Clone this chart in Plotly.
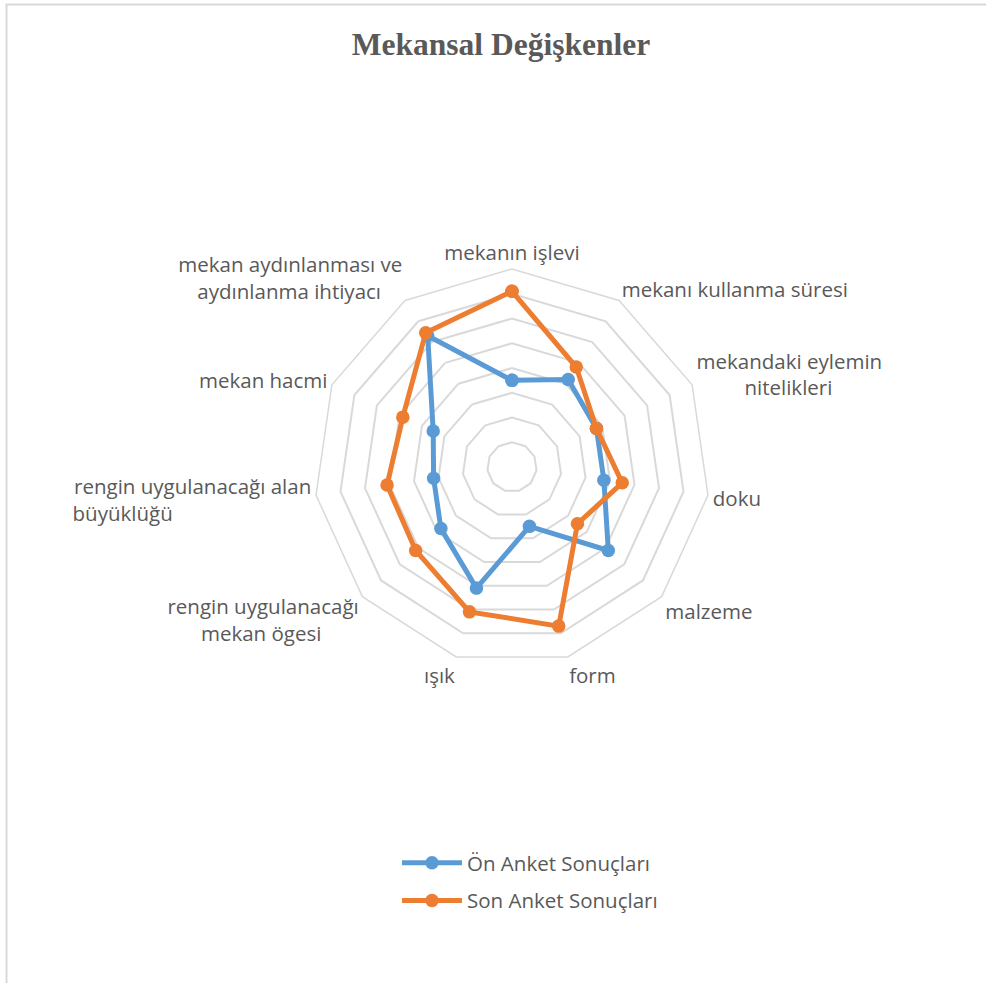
import plotly.graph_objects as go

# kategoriler (saat yönünde, tepeden başlayarak)
categories = [
    "mekanın işlevi",
    "mekanı kullanma süresi",
    "mekandaki eylemin nitelikleri",
    "doku",
    "malzeme",
    "form",
    "ışık",
    "rengin uygulanacağı mekan ögesi",
    "rengin uygulanacağı alan büyüklüğü",
    "mekan hacmi",
    "mekan aydınlanması ve aydınlanma ihtiyacı",
]

# eksen etiketleri (satır kırılımları Excel'deki gibi)
nb = "\u00a0"
tick_labels = [
    "mekanın işlevi",
    "mekanı kullanma süresi",
    "mekandaki eylemin<br>" + nb * 9 + "nitelikleri",
    "doku",
    "malzeme",
    "form",
    "ışık",
    "rengin uygulanacağı<br>mekan ögesi" + nb * 7,
    "rengin uygulanacağı alan<br>büyüklüğü" + nb * 26,
    "mekan hacmi",
    "mekan aydınlanması ve<br>aydınlanma ihtiyacı" + nb * 4,
]

on_anket = [3.5, 4.2, 3.75, 3.75, 5.15, 2.5, 5.1, 3.8, 3.2, 3.5, 6.3]
son_anket = [7.1, 4.8, 3.75, 4.5, 3.5, 6.7, 6.1, 5.15, 5.1, 4.85, 6.45]

series_names = ["Ön Anket Sonuçları", "Son Anket Sonuçları"]
series_colors = ["#5B9BD5", "#ED7D31"]

TEXT = "#595959"
GRID = "#D9D9D9"
W, H = 986, 983

fig = go.Figure()

for name, vals, col in zip(series_names, [on_anket, son_anket], series_colors):
    # çokgeni kapatmak için ilk noktayı tekrarla
    fig.add_trace(go.Scatterpolar(
        r=vals + vals[:1],
        theta=categories + categories[:1],
        mode="lines+markers",
        name=name,
        legendgroup=name,
        line=dict(color=col, width=5),
        marker=dict(color=col, size=13.5),
    ))

# polar alanın merkezi ve yarıçapı (piksel)
cx, cy, R = 512, 467, 198

fig.update_layout(
    width=W,
    height=H,
    margin=dict(l=0, r=0, t=0, b=0),
    paper_bgcolor="white",
    plot_bgcolor="white",
    font=dict(family="Open Sans", size=20.5, color=TEXT),
    title=dict(
        text="Mekansal Değişkenler",
        x=501 / W,
        xanchor="center",
        y=1 - 44 / H,
        yanchor="middle",
        font=dict(family="Liberation Serif", size=31.5, color=TEXT, weight="bold"),
    ),
    polar=dict(
        domain=dict(x=[(cx - R) / W, (cx + R) / W],
                    y=[(H - cy - R) / H, (H - cy + R) / H]),
        bgcolor="white",
        gridshape="linear",
        radialaxis=dict(
            range=[0, 8],
            dtick=1,
            showticklabels=False,
            ticks="",
            showline=False,
            gridcolor=GRID,
            gridwidth=1.5,
        ),
        angularaxis=dict(
            rotation=90,
            direction="clockwise",
            showgrid=False,
            showline=True,
            linecolor=GRID,
            linewidth=1.5,
            ticks="",
            tickmode="array",
            tickvals=categories,
            ticktext=tick_labels,
            tickfont=dict(family="Open Sans", size=20.5, color=TEXT),
        ),
    ),
    legend=dict(
        x=397 / W,
        xanchor="left",
        y=1 - 843 / H,
        yanchor="top",
        tracegroupgap=8,
        itemwidth=60,
        font=dict(family="Open Sans", size=20.5, color=TEXT),
        bgcolor="rgba(0,0,0,0)",
    ),
    showlegend=True,
    shapes=[
        dict(type="rect", xref="paper", yref="paper",
             x0=6.5 / W, x1=1.05, y0=-0.05, y1=1 - 4.5 / H,
             line=dict(color=GRID, width=2), layer="below"),
    ],
)

# sayfanın varsayılan body kenar boşluğunu kaldır, araç çubuğunu gizle
fig.write_html(
    "out.html",
    config={"displayModeBar": False},
    post_script="document.body.style.margin='0px';",
)
